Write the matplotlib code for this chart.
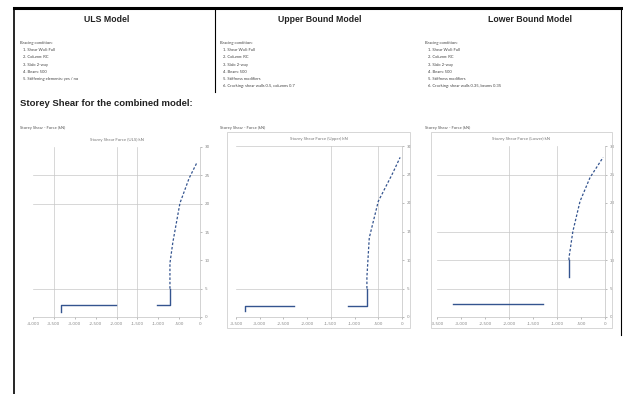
import numpy as np
import matplotlib
matplotlib.use('Agg')
import matplotlib.pyplot as plt
from matplotlib.lines import Line2D
from matplotlib.patches import Rectangle

W, H = 623, 394

# ── 데이터 ──────────────────────────────────────────────
model_titles = ["ULS Model", "Upper Bound Model", "Lower Bound Model"]
bracing_notes = [
    ["Bracing condition:", "1. Shear Wall: Full", "2. Column: RC", "3. Slab: 2-way",
     "4. Beam: 500", "5. Stiffening elements: yes / no"],
    ["Bracing condition:", "1. Shear Wall: Full", "2. Column: RC", "3. Slab: 2-way",
     "4. Beam: 500", "5. Stiffness modifiers", "6. Cracking: shear walls 0.5, columns 0.7"],
    ["Bracing condition:", "1. Shear Wall: Full", "2. Column: RC", "3. Slab: 2-way",
     "4. Beam: 500", "5. Stiffness modifiers", "6. Cracking: shear walls 0.35, beams 0.35"],
]
chart_captions = ["Storey Shear - Force (kN)"] * 3
chart_titles = ["Storey Shear Force (ULS) kN", "Storey Shear Force (Upper) kN",
                "Storey Shear Force (Lower) kN"]

x_ticks = [
    [-4000, -3500, -3000, -2500, -2000, -1500, -1000, -500, 0],
    [-3500, -3000, -2500, -2000, -1500, -1000, -500, 0],
    [-3500, -3000, -2500, -2000, -1500, -1000, -500, 0],
]
y_ticks = [0, 5, 10, 15, 20, 25, 30]
x_grid = [[-3500, -2000, -1500], [-1500, -500], [-2000, -1000]]
y_grid = [[5, 20, 25], [5, 30], [5, 10, 15, 25]]

# 하부 (기초) 구간
base_shear = [
    [-3330, -3330, -2010, np.nan, -1030, -720, -720],
    [-3310, -3310, -2280, np.nan, -1140, -740, -740],
    [-3290, -3290, np.nan, -3170, -1290, np.nan, -750, -750],
]
base_level = [
    [0.9, 2.1, 2.1, np.nan, 2.1, 2.1, 5.0],
    [1.0, 1.9, 1.9, np.nan, 1.9, 1.9, 5.0],
    [1.9, 1.9, np.nan, 2.3, 2.3, np.nan, 7.0, 10.0],
]
# 층별 구간
storey_shear = [
    [-720, -720, -650, -480, -260, -70],
    [-740, -740, -690, -500, -210, -40],
    [-750, -750, -670, -520, -310, -40],
]
storey_level = [
    [5.0, 9.5, 13.2, 20.1, 24.5, 27.3],
    [5.0, 7.0, 13.9, 20.3, 25.0, 28.0],
    [10.0, 10.4, 15.0, 20.3, 24.5, 28.0],
]

# ── 레이아웃 (px) ────────────────────────────────────────
col_x = [20, 220, 425]
title_cx = [107, 320, 530]
plot_boxes = [(33, 147, 200, 317), (236, 146, 402, 317), (437, 146, 605, 317)]
frames = [None, (227, 132, 410, 328), (431, 132, 612, 328)]
LINE_C = "#34548f"
BOLD_FONT = "Liberation Sans"


def fx(px):
    return px / W


def fy(py):
    return 1 - py / H


fig = plt.figure(figsize=(W / 100, H / 100), dpi=100)
fig.patch.set_facecolor("white")

# 테두리
fig.add_artist(Line2D([fx(14), fx(623)], [fy(8), fy(8)], color="black", lw=2.2))
fig.add_artist(Line2D([fx(14), fx(14)], [fy(8), fy(394)], color="black", lw=1.2))
fig.add_artist(Line2D([fx(215), fx(215)], [fy(8), fy(92)], color="black", lw=0.8))
fig.add_artist(Line2D([fx(621), fx(621)], [fy(8), fy(335)], color="black", lw=0.8))

for i in range(3):
    fig.text(fx(title_cx[i]), fy(20), model_titles[i], ha="center", va="center",
             fontsize=6.3, fontweight="bold", family=BOLD_FONT, color="#222222")
    for j, line in enumerate(bracing_notes[i]):
        fig.text(fx(col_x[i] + (0 if j == 0 else 3)), fy(43 + j * 7.2), line,
                 ha="left", va="center", fontsize=3.0, family="Lato", color="#444444")
    fig.text(fx(col_x[i]), fy(128), chart_captions[i], ha="left", va="center",
             fontsize=3.0, family="Lato", color="#555555")

fig.text(fx(20), fy(103), "Storey Shear for the combined model:", ha="left", va="center",
         fontsize=6.8, fontweight="bold", family=BOLD_FONT, color="#222222")

for i in range(3):
    if frames[i]:
        l, t, r, b = frames[i]
        fig.add_artist(Rectangle((fx(l), fy(b)), fx(r) - fx(l), fy(t) - fy(b),
                                 fill=False, ec="#d0d0d0", lw=0.6))
    l, t, r, b = plot_boxes[i]
    ax = fig.add_axes([fx(l), fy(b), fx(r) - fx(l), fy(t) - fy(b)])
    ax.set_xlim(x_ticks[i][0], x_ticks[i][-1])
    ax.set_ylim(0, 30)
    for gx in x_grid[i]:
        ax.axvline(gx, color="#c8c8c8", lw=0.5, zorder=0)
    for gy in y_grid[i]:
        ax.axhline(gy, color="#c8c8c8", lw=0.5, zorder=0)
    ax.plot(base_shear[i], base_level[i], color=LINE_C, lw=1.0)
    ax.plot(storey_shear[i], storey_level[i], color=LINE_C, lw=0.9,
            ls=(0, (2.0, 1.5)))
    ax.set_xticks(x_ticks[i])
    ax.set_xticklabels([f"{v:,}" if v else "0" for v in x_ticks[i]])
    ax.set_yticks(y_ticks)
    ax.yaxis.tick_right()
    ax.tick_params(labelsize=3, colors="#888888", length=1.5, width=0.4, pad=2)
    for s in ["top", "left"]:
        ax.spines[s].set_visible(False)
    for s in ["bottom", "right"]:
        ax.spines[s].set_color("#c0c0c0")
        ax.spines[s].set_linewidth(0.5)
    ax.set_title(chart_titles[i], fontsize=3.2, color="#777777", pad=4, family="Lato")

plt.savefig("out.png", dpi=100)
plt.close()
